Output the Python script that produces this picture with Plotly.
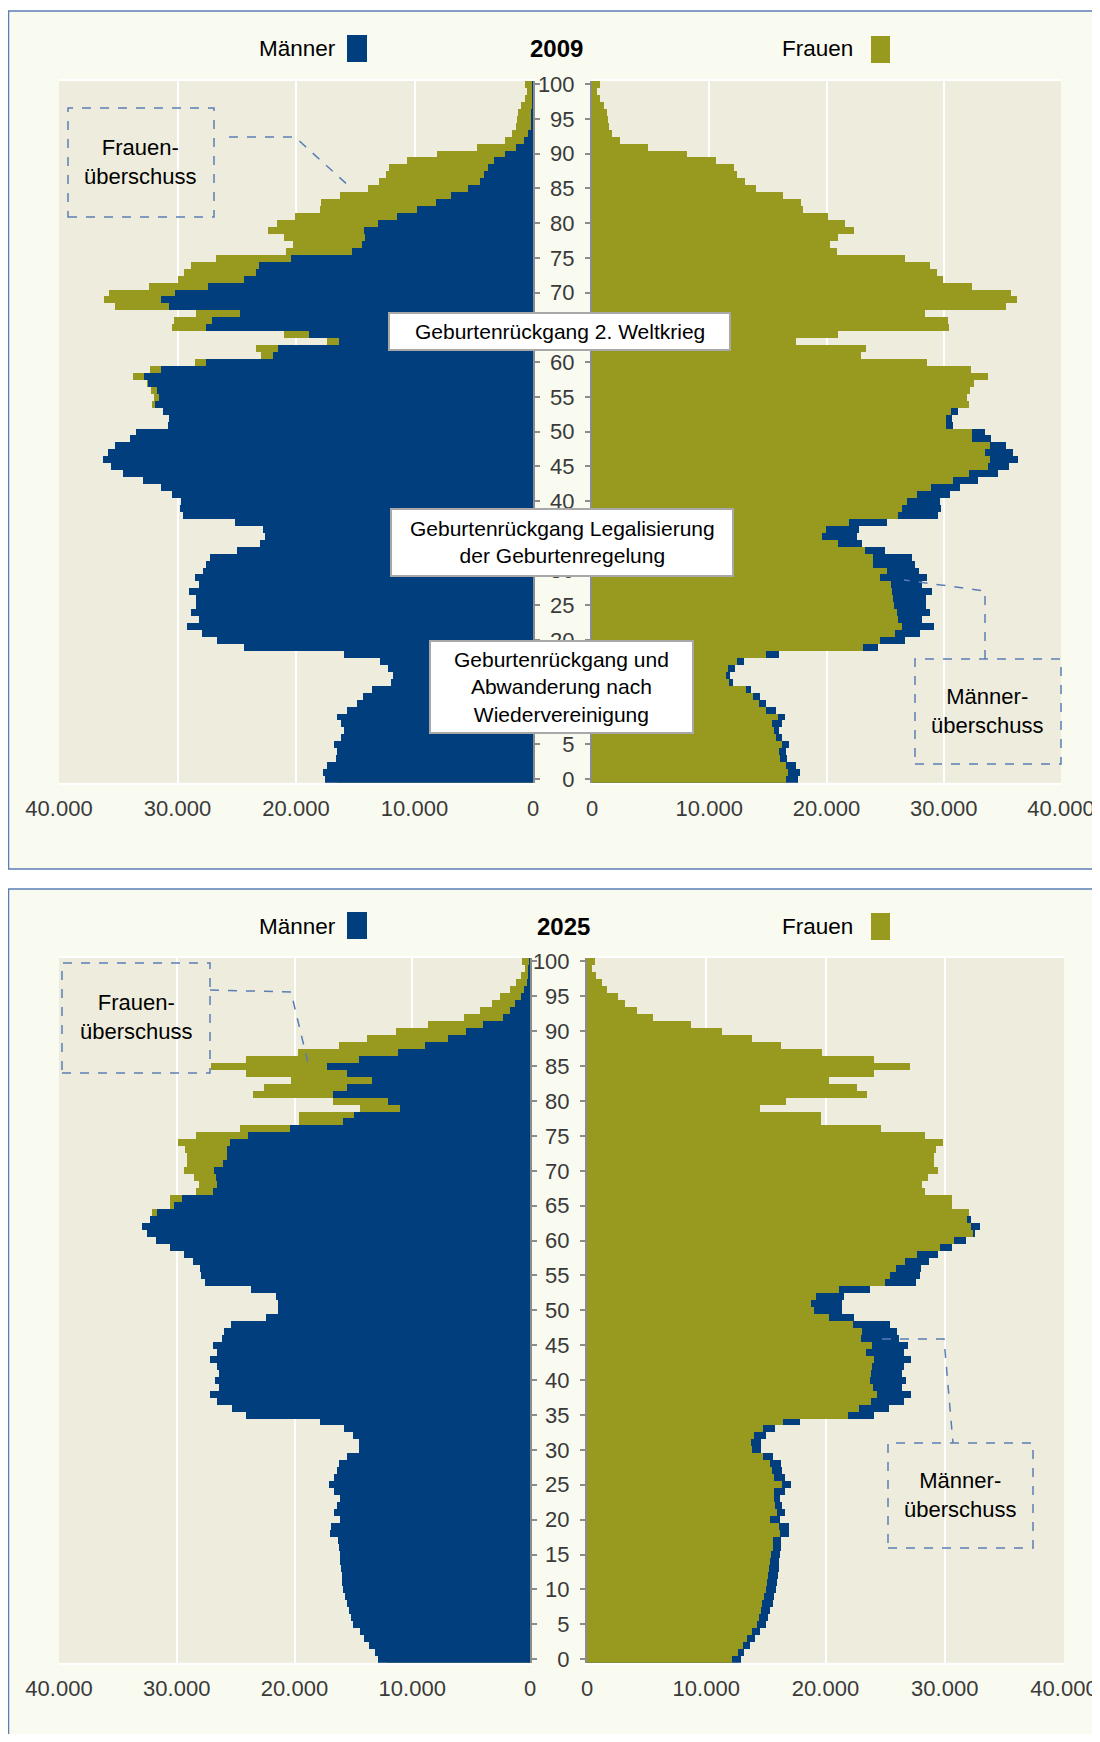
import plotly.graph_objects as go

# Die Seite hat 8 px Rand; die Figur wird entsprechend kleiner und verschoben
RAND = 8
W, H = 1100 - RAND, 1742 - 2 * RAND


def px(x):
    return (x - RAND) / W


def py(y):
    return 1 - (y - RAND) / H


alter = list(range(101))

# Bevölkerung nach Alter (0 ... 100)
maenner_2009 = [17560, 17710, 17410, 16660, 16570, 16800, 16200, 15960, 16200, 16500,
                15660, 14850, 14310, 13550, 11990, 11780, 12230, 12950, 15960, 24430,
                26660, 27950, 29160, 28160, 28830, 28460, 28460, 29000, 28160, 28550,
                27860, 27560, 27300, 25000, 23000, 22620, 22800, 25180, 29500, 29760,
                29700, 30500, 31400, 32900, 34600, 35600, 36300, 35900, 35300, 34000,
                33500, 30800, 30700, 31200, 31900, 31600, 31700, 32500, 32800, 31400,
                27600, 21900, 21500, 16400, 18900, 27600, 27100, 24700, 30700, 31400,
                30200, 27400, 24400, 23400, 23100, 20400, 15300, 14400, 14200, 14250,
                13100, 11500, 9800, 8200, 6900, 5500, 4500, 4100, 3800, 3300,
                2400, 1450, 800, 400, 160, 130, 110, 80, 60, 40,
                30]
frauen_2009 = [16520, 16740, 16520, 16060, 15970, 16210, 15690, 15500, 15380, 15900,
               14880, 14200, 13730, 13110, 11720, 11410, 11560, 12400, 14880, 23130,
               24580, 25820, 26440, 26130, 25980, 25760, 25670, 25600, 25510, 24580,
               25200, 23960, 23960, 23250, 21020, 19620, 19930, 21890, 26130, 26440,
               26900, 27680, 28920, 30780, 32180, 33790, 33980, 33510, 33980, 32430,
               32430, 30225, 30225, 30630, 32120, 32020, 32270, 32550, 33790, 32300,
               28550, 22970, 23410, 17390, 21020, 30470, 30320, 28400, 35310, 36210,
               35770, 32430, 29920, 29450, 28860, 26720, 20860, 20270, 21020, 22350,
               21580, 20090, 18010, 17860, 16300, 13950, 13020, 12400, 12120, 10600,
               8060, 4740, 2360, 1740, 1430, 1330, 1240, 1020, 650, 465,
               650]
maenner_2025 = [12950, 13190, 13650, 14100, 14470, 15020, 15170, 15380, 15570, 15690,
                15870, 15930, 15990, 16080, 16110, 16170, 16240, 16300, 16970, 16900,
                16170, 16630, 16390, 16170, 16630, 17090, 16630, 16390, 16240, 15570,
                14560, 14560, 15020, 15780, 17850, 24090, 25310, 26590, 27200, 26440,
                26740, 26440, 26590, 27200, 26590, 26900, 26130, 25980, 25370, 22420,
                21410, 21400, 21550, 23700, 27560, 27900, 27990, 28640, 29400, 30600,
                31760, 32550, 32960, 32240, 31650, 30200, 29530, 26950, 26560, 26650,
                26800, 26040, 25740, 25760, 25480, 23980, 20380, 15850, 14950, 11040,
                12090, 16760, 15570, 13450, 15570, 17210, 14490, 11180, 8920, 6940,
                5440, 3960, 2320, 1700, 1270, 790, 510, 280, 140, 110,
                40]
frauen_2025 = [12180, 12640, 13040, 13400, 13800, 14260, 14410, 14560, 14710, 14860,
               15020, 15080, 15170, 15260, 15320, 15410, 15570, 15570, 16170, 16080,
               15380, 15930, 15780, 15690, 15690, 16390, 15690, 15530, 15380, 14770,
               13860, 13740, 14040, 14770, 16450, 21870, 22780, 23850, 24310, 24000,
               23700, 23790, 23940, 24090, 23390, 23940, 22940, 23030, 22330, 20290,
               19070, 18760, 19220, 21110, 25010, 25430, 25890, 26650, 27660, 29640,
               30760, 32380, 32230, 31860, 32070, 30610, 30610, 28360, 28110, 28570,
               29420, 29120, 29120, 29270, 29880, 28360, 24670, 19650, 19650, 14470,
               16690, 23520, 22630, 20260, 24090, 27080, 24090, 19680, 16240, 13860,
               11360, 8680, 5570, 4230, 3200, 2590, 1710, 1220, 790, 460,
               640]

x_tickwerte = [0, 10000, 20000, 30000, 40000]
x_ticktexte = ["0", "10.000", "20.000", "30.000", "40.000"]
alter_ticks = list(range(0, 101, 5))

BLAU = "#003E7E"
OLIV = "#979A1F"
RAHMEN = "#5B7DB5"
RAHMEN_BG = "#F9FAF0"
PLOT_BG = "#EEEDDD"
ACHSE = "#8C8C8C"
TICKFARBE = "#3A3A3A"
FONT = "Liberation Sans, Arial, sans-serif"

fig = go.Figure()


def balken(x, farbe, xa, ya):
    fig.add_trace(go.Bar(y=alter, x=x, orientation="h", width=1,
                         marker=dict(color=farbe, line=dict(width=0)),
                         xaxis=xa, yaxis=ya, hoverinfo="x+y"))


# 2009: links Frauen unter Männern, rechts Männer unter Frauen
balken(frauen_2009, OLIV, "x", "y")
balken(maenner_2009, BLAU, "x", "y")
balken(maenner_2009, BLAU, "x2", "y2")
balken(frauen_2009, OLIV, "x2", "y2")
# 2025
balken(frauen_2025, OLIV, "x3", "y3")
balken(maenner_2025, BLAU, "x3", "y3")
balken(maenner_2025, BLAU, "x4", "y4")
balken(frauen_2025, OLIV, "x4", "y4")

# Plotbereiche in Seitenpixeln: (links, rechts, oben, unten)
panels = {
    "1": (59, 533, 80.7, 782.7),
    "2": (592, 1061, 80.7, 782.7),
    "3": (59, 530, 958, 1662.7),
    "4": (587, 1064, 958, 1662.7),
}

layout = {}
for k, (l, r, t, b) in panels.items():
    sx = "" if k == "1" else k
    links = k in ("1", "3")
    layout["xaxis" + sx] = dict(
        domain=[px(l), px(r)], anchor="y" + sx, automargin=False,
        range=[40000, 0] if links else [0, 40000],
        tickvals=x_tickwerte, ticktext=x_ticktexte,
        showgrid=True, gridcolor="white", gridwidth=2,
        zeroline=False, showline=True, linecolor="white", linewidth=2, mirror=True,
        ticks="outside", ticklen=5, tickcolor="rgba(0,0,0,0)",
        tickfont=dict(size=22, color=TICKFARBE, family=FONT), fixedrange=True)
    layout["yaxis" + sx] = dict(
        domain=[py(b), py(t)], anchor="x" + sx, range=[-0.5, 100.5], automargin=False,
        side="right" if links else "left",
        tickvals=alter_ticks, showticklabels=not links,
        showgrid=False, zeroline=False,
        showline=True, linecolor=ACHSE, linewidth=2,
        ticks="outside", ticklen=5, tickcolor=ACHSE, tickwidth=1.5,
        ticklabelstandoff=6,
        tickfont=dict(size=22, color=TICKFARBE, family=FONT), fixedrange=True)

shapes = []
# Rahmen
for (y0, y1) in [(11, 869), (889, 1780)]:
    shapes.append(dict(type="rect", xref="paper", yref="paper", layer="below",
                       x0=px(8.5), x1=px(1130), y0=py(y1), y1=py(y0),
                       fillcolor=RAHMEN_BG, line=dict(color=RAHMEN, width=1.5)))
# Plotflächen
for (l, r, t, b) in panels.values():
    shapes.append(dict(type="rect", xref="paper", yref="paper", layer="below",
                       x0=px(l), x1=px(r), y0=py(b), y1=py(t),
                       fillcolor=PLOT_BG, line=dict(width=0)))

annotations = []


def text(x, y, s, size=21, anchor="center", bold=False):
    annotations.append(dict(xref="paper", yref="paper", x=px(x), y=py(y),
                            text="<b>%s</b>" % s if bold else s, showarrow=False,
                            xanchor=anchor, yanchor="middle",
                            font=dict(size=size, color="black", family=FONT)))


def box(l, t, r, b):
    shapes.append(dict(type="rect", xref="paper", yref="paper", layer="above",
                       x0=px(l), x1=px(r), y0=py(b), y1=py(t),
                       fillcolor="white", line=dict(color="#A8A8A8", width=2)))


def dashbox(l, t, r, b):
    shapes.append(dict(type="rect", xref="paper", yref="paper", layer="above",
                       x0=px(l), x1=px(r), y0=py(b), y1=py(t),
                       fillcolor="rgba(0,0,0,0)", line=dict(color=RAHMEN, width=1.5, dash="dash")))


def dashline(pts):
    path = "M " + " L ".join("%f,%f" % (px(a), py(c)) for a, c in pts)
    shapes.append(dict(type="path", xref="paper", yref="paper", layer="above",
                       path=path, line=dict(color=RAHMEN, width=1.5, dash="dash")))


def legende(y_mid, y0, y1, titel, tx):
    text(338, y_mid, "Männer", size=22.5, anchor="right")
    shapes.append(dict(type="rect", xref="paper", yref="paper", layer="above",
                       x0=px(347), x1=px(367), y0=py(y1), y1=py(y0),
                       fillcolor=BLAU, line=dict(width=0)))
    text(tx, y_mid, titel, size=24, bold=True)
    text(855, y_mid, "Frauen", size=22.5, anchor="right")
    shapes.append(dict(type="rect", xref="paper", yref="paper", layer="above",
                       x0=px(871), x1=px(890), y0=py(y1 + 1), y1=py(y0 + 1),
                       fillcolor=OLIV, line=dict(width=0)))


legende(49, 35, 62, "2009", 556)
legende(926, 912, 939, "2025", 563)

# Hinweise 2009
box(389, 313, 730, 350)
text(560, 331.5, "Geburtenrückgang 2. Weltkrieg")
box(391, 509, 733, 576)
text(562, 542.5, "Geburtenrückgang Legalisierung<br>der Geburtenregelung")
box(430, 641, 693, 733)
text(561.5, 687, "Geburtenrückgang und<br>Abwanderung nach<br>Wiedervereinigung")

dashbox(68, 108, 214, 217)
text(140, 162, "Frauen-<br>überschuss", size=22)
dashline([(229, 137), (295, 137), (350, 187)])

dashbox(915, 659, 1061, 764)
text(987, 711, "Männer-<br>überschuss", size=22)
dashline([(985, 659), (985, 591), (904, 580)])

# Hinweise 2025
dashbox(62, 963, 210, 1073)
text(136, 1017, "Frauen-<br>überschuss", size=22)
dashline([(210, 990), (291, 992), (308, 1063)])

dashbox(888, 1443, 1033, 1548)
text(960, 1495, "Männer-<br>überschuss", size=22)
dashline([(882, 1339), (944, 1339), (953, 1443)])

fig.update_layout(
    width=W, height=H, margin=dict(l=0, r=0, t=0, b=0, autoexpand=False),
    paper_bgcolor="white", plot_bgcolor="rgba(0,0,0,0)",
    barmode="overlay", bargap=0, showlegend=False,
    font=dict(family=FONT),
    shapes=shapes, annotations=annotations, **layout)

fig.write_html("out.html")
